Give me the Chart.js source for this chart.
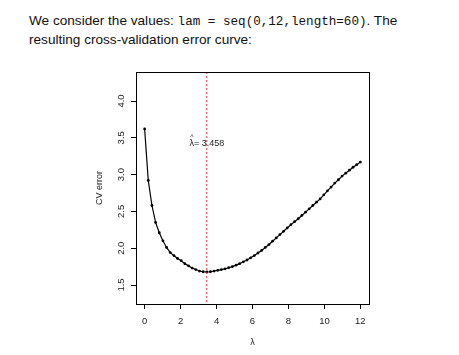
<!DOCTYPE html>
<html>
<head>
<meta charset="utf-8">
<script src="https://cdn.jsdelivr.net/npm/chart.js@4.4.1/dist/chart.umd.min.js"></script>
<style>
  html, body { margin: 0; padding: 0; background: #fff; }
  body { width: 459px; height: 355px; position: relative; overflow: hidden; }
  #intro {
    position: absolute; left: 29px; top: 12px;
    font-family: "Liberation Sans", Arial, sans-serif; font-size: 13.6px;
    line-height: 18px; color: #111; white-space: nowrap;
  }
  #intro code { font-family: "Liberation Mono", "DejaVu Sans Mono", monospace; font-size: 12.6px; }
  #cvChart { position: absolute; left: 0; top: 0; }
</style>
</head>
<body>
<div id="intro">We consider the values: <code>lam = seq(0,12,length=60)</code>. The<br>resulting cross-validation error curve:</div>
<canvas id="cvChart" width="459" height="355"></canvas>
<script>
// lam = seq(0,12,length=60)
const lam = [0, 0.203, 0.407, 0.610, 0.814, 1.017, 1.220, 1.424, 1.627, 1.831,
  2.034, 2.237, 2.441, 2.644, 2.847, 3.051, 3.254, 3.458, 3.661, 3.864,
  4.068, 4.271, 4.475, 4.678, 4.881, 5.085, 5.288, 5.492, 5.695, 5.898,
  6.102, 6.305, 6.508, 6.712, 6.915, 7.119, 7.322, 7.525, 7.729, 7.932,
  8.136, 8.339, 8.542, 8.746, 8.949, 9.153, 9.356, 9.559, 9.763, 9.966,
  10.169, 10.373, 10.576, 10.780, 10.983, 11.186, 11.390, 11.593, 11.797, 12];

// cross-validation error
const cvErr = [3.62, 2.92, 2.58, 2.35, 2.21, 2.10, 2.01, 1.94, 1.90, 1.86,
  1.83, 1.79, 1.76, 1.73, 1.71, 1.69, 1.68, 1.677, 1.68, 1.69,
  1.70, 1.71, 1.72, 1.735, 1.75, 1.77, 1.79, 1.815, 1.84, 1.87,
  1.90, 1.935, 1.97, 2.01, 2.05, 2.095, 2.14, 2.185, 2.23, 2.275,
  2.32, 2.36, 2.40, 2.445, 2.49, 2.535, 2.58, 2.625, 2.67, 2.725,
  2.78, 2.83, 2.885, 2.93, 2.98, 3.02, 3.06, 3.10, 3.135, 3.17];

const lamHat = 3.458;
const lamHatLabelY = 3.42;
const xTicks = [0, 2, 4, 6, 8, 10, 12];
const yTicks = [1.5, 2.0, 2.5, 3.0, 3.5, 4.0];

const tickFont = { family: "Liberation Sans, Arial, sans-serif", size: 9.5 };
const titleFont = { family: "Liberation Sans, Arial, sans-serif", size: 9 };
const inkColor = '#222';

// box around the plot region, the dashed line at lamHat and its label
const extras = {
  id: 'extras',
  afterDatasetsDraw(chart) {
    const { ctx, chartArea: a, scales: { x, y } } = chart;
    const px = x.getPixelForValue(lamHat);
    ctx.save();
    ctx.strokeStyle = '#dc3341';
    ctx.lineWidth = 1;
    ctx.setLineDash([2, 2]);
    ctx.beginPath();
    ctx.moveTo(px, a.top);
    ctx.lineTo(px, a.bottom);
    ctx.stroke();
    ctx.setLineDash([]);

    ctx.fillStyle = inkColor;
    ctx.font = '9px "Liberation Sans", Arial, sans-serif';
    ctx.textBaseline = 'middle';
    const py = y.getPixelForValue(lamHatLabelY);
    const label = '\u03bb= ' + lamHat.toFixed(3);
    const w = ctx.measureText(label).width;
    ctx.textAlign = 'left';
    ctx.fillText(label, px - w / 2, py);
    ctx.font = '7px "Liberation Sans", Arial, sans-serif';
    ctx.textAlign = 'center';
    ctx.fillText('^', px - w / 2 + 2.5, py - 7);

    ctx.strokeStyle = '#000';
    ctx.lineWidth = 1;
    ctx.strokeRect(Math.round(a.left) + 0.5, Math.round(a.top) + 0.5,
      Math.round(a.right - a.left), Math.round(a.bottom - a.top));
    ctx.restore();
  }
};

new Chart(document.getElementById('cvChart'), {
  type: 'line',
  data: {
    datasets: [{
      data: lam.map((v, i) => ({ x: v, y: cvErr[i] })),
      borderColor: '#000',
      backgroundColor: '#000',
      borderWidth: 1.2,
      pointRadius: 1.4,
      pointBorderWidth: 0,
      tension: 0
    }]
  },
  options: {
    responsive: false,
    animation: false,
    events: [],
    layout: { padding: { left: 0, top: 72, right: 90, bottom: 0 } },
    plugins: { legend: { display: false }, tooltip: { enabled: false } },
    scales: {
      x: {
        type: 'linear',
        min: -0.48,
        max: 12.48,
        afterFit: (s) => { s.height = 51; },
        afterBuildTicks: (s) => { s.ticks = xTicks.map(v => ({ value: v })); },
        grid: { drawOnChartArea: false, drawTicks: true, tickLength: 5, color: '#000' },
        border: { display: false },
        ticks: { font: tickFont, color: inkColor, padding: 7, maxRotation: 0, autoSkip: false,
          callback: (v) => String(v) },
        title: { display: true, text: '\u03bb', font: titleFont, color: inkColor,
          padding: { top: 0, bottom: 7 } }
      },
      y: {
        type: 'linear',
        min: 1.242,
        max: 4.394,
        afterFit: (s) => { s.width = 136; },
        afterBuildTicks: (s) => { s.ticks = yTicks.map(v => ({ value: v })); },
        grid: { drawOnChartArea: false, drawTicks: true, tickLength: 5, color: '#000' },
        border: { display: false },
        ticks: { font: tickFont, color: inkColor, padding: 3, minRotation: 90, maxRotation: 90,
          autoSkip: false, crossAlign: 'center', callback: (v) => v.toFixed(1) },
        title: { display: true, text: 'CV error', font: titleFont, color: inkColor,
          padding: { top: 94.6, bottom: 0 } }
      }
    }
  },
  plugins: [extras]
});
</script>
</body>
</html>
